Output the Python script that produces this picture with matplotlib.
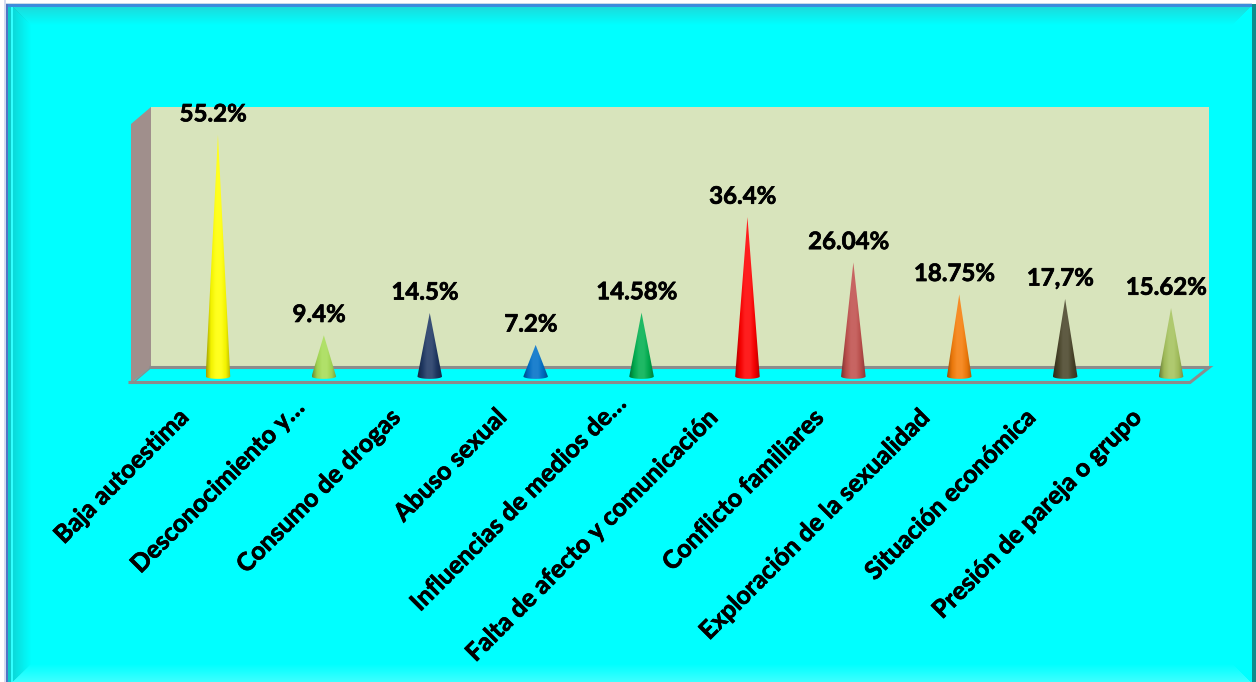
import numpy as np
from matplotlib import pyplot as plt
from matplotlib.colors import LinearSegmentedColormap, to_rgb
from matplotlib.patches import PathPatch, Polygon
from matplotlib.path import Path
from matplotlib.transforms import ScaledTranslation
import matplotlib.patheffects as pe

categorias = ["Baja autoestima", "Desconocimiento y…", "Consumo de drogas", "Abuso sexual",
              "Influencias de medios de…", "Falta de afecto y comunicación", "Conflicto familiares",
              "Exploración de la sexualidad", "Situación económica", "Presión de pareja o grupo"]
valores = [55.2, 9.4, 14.5, 7.2, 14.58, 36.4, 26.04, 18.75, 17.7, 15.62]
etiquetas = ["55.2%", "9.4%", "14.5%", "7.2%", "14.58%", "36.4%", "26.04%", "18.75%", "17,7%", "15.62%"]
cores = ["#FFFF00", "#A6DC55", "#1F3864", "#0070C8", "#00B050", "#FF0000", "#C0504D", "#F57D0A", "#4A452A", "#A5C25C"]

W, H = 1256, 682
plt.rcParams['font.family'] = ['Lato', 'DejaVu Sans']
fig = plt.figure(figsize=(W / 100, H / 100), dpi=100)
negrito = [pe.withStroke(linewidth=0.5, foreground='black')]

# Fundo: moldura com chanfro, calculada pixel a pixel
fundo = fig.add_axes([0, 0, 1, 1])
fundo.axis('off')
yy, xx = np.mgrid[0:H, 0:W] + 0.5
img = np.ones((H, W, 3)) * np.array(to_rgb("#00FFFF"))
d_top = yy - 7
d_left = xx - 13
d_right = 1250 - xx
d_bot = 682 - yy
menor = np.minimum.reduce([d_top, d_left, d_right, d_bot])
largura = 18.0
forca = np.clip(1 - menor / largura, 0, 1)
for d, cor, alfa in [(d_top, "#1FD8D8", 0.9), (d_left, "#12C4C4", 0.65),
                     (d_right, "#00FFFF", 0.0), (d_bot, "#45FFFF", 0.9)]:
    m = (d == menor) & (menor < largura)
    a = (forca[m] * alfa)[:, None]
    img[m] = img[m] * (1 - a) + np.array(to_rgb(cor)) * a
# faixas da borda externa
img[:, 8:11] = to_rgb("#10C8C8")
img[:, 11:13] = to_rgb("#30FFFF")
img[4:7, 5:] = to_rgb("#3C8CDC")
img[:, 6:8] = to_rgb("#4F74C4")
img[:4, :] = to_rgb("#FFFFFF")
img[3, 4:] = to_rgb("#C8DCE8")
img[:, :4] = to_rgb("#FFFFFF")
img[:, 4:6] = to_rgb("#D4DCF0")
img[:, 1252:] = to_rgb("#0F8C8C")
img[:4, 1252:] = to_rgb("#FFFFFF")
fundo.imshow(img, extent=(0, W, H, 0), aspect='auto', interpolation='nearest')
fundo.set_xlim(0, W)
fundo.set_ylim(H, 0)

# Paredes e piso do grafico 3D
fundo.add_patch(Polygon([(151, 107), (1209, 107), (1209, 367), (151, 367)], fc="#D8E4BC", ec="none"))
fundo.add_patch(Polygon([(131, 124), (151, 107), (151, 367), (131, 383)], fc="#A08F8C", ec="none"))
fundo.add_patch(Polygon([(151, 368), (1209, 368), (1190, 383), (133, 383)], fc="#00FFFF", ec="none"))
fundo.plot([151, 1209, 1190, 130], [367.5, 367.5, 382.5, 382.5], color="#8C8C8C", lw=2.2, solid_joinstyle='miter')
fundo.plot([151, 135], [367.5, 381], color="#8C8C8C", lw=1)

# Eixo dos dados, transparente por cima do fundo
ax = fig.add_axes([165 / W, 1 - 389.6 / H, 1059 / W, 275.9 / H])
ax.patch.set_alpha(0)
for s in ax.spines.values():
    s.set_visible(False)

meia_base = 0.116
meia_elipse = 0.55
gradiente = np.linspace(0, 1, 128)[None, :]
for i, (v, cor) in enumerate(zip(valores, cores)):
    c = np.array(to_rgb(cor))
    claro = c + (1 - c) * 0.12
    mapa = LinearSegmentedColormap.from_list("cone", [c * 0.62, c * 0.95, claro, claro, c * 0.95, c * 0.7])
    im = ax.imshow(gradiente, cmap=mapa, aspect='auto', zorder=3,
                   extent=(i - meia_base, i + meia_base, -meia_elipse, v))
    t = np.linspace(np.pi, 2 * np.pi, 24)
    contorno = [(i, v)] + list(zip(i + meia_base * np.cos(t)[::-1], meia_elipse * np.sin(t)[::-1]))
    forma = PathPatch(Path(contorno + [(i, v)], closed=False), transform=ax.transData, fc='none', ec='none')
    ax.add_patch(forma)
    im.set_clip_path(forma)
    ax.annotate(etiquetas[i], xy=(i, v), xytext=(-3.5, 15), textcoords='offset points', ha='center', va='center',
                fontsize=17.3, fontweight='bold', color='black', annotation_clip=False, zorder=5,
                path_effects=negrito)

ax.set_xlim(-0.5, 9.5)
ax.set_ylim(-3, 60)
ax.set_yticks([])
ax.set_xticks(range(len(categorias)))
ax.set_xticklabels(categorias, rotation=45, ha='right', va='center', rotation_mode='anchor',
                   fontsize=18, fontweight='bold', color='black', path_effects=negrito)
ax.tick_params(axis='x', length=0, pad=17)
# rotulos cortados com reticencias ficam um pouco mais acima na diagonal
extra = {1: 0.10, 4: 0.14}
for n, rotulo in enumerate(ax.get_xticklabels()):
    e = extra.get(n, 0)
    desloca = ScaledTranslation(-33 / 100 + e, e, fig.dpi_scale_trans)
    rotulo.set_transform(rotulo.get_transform() + desloca)

fig.savefig("out.png", dpi=100)
